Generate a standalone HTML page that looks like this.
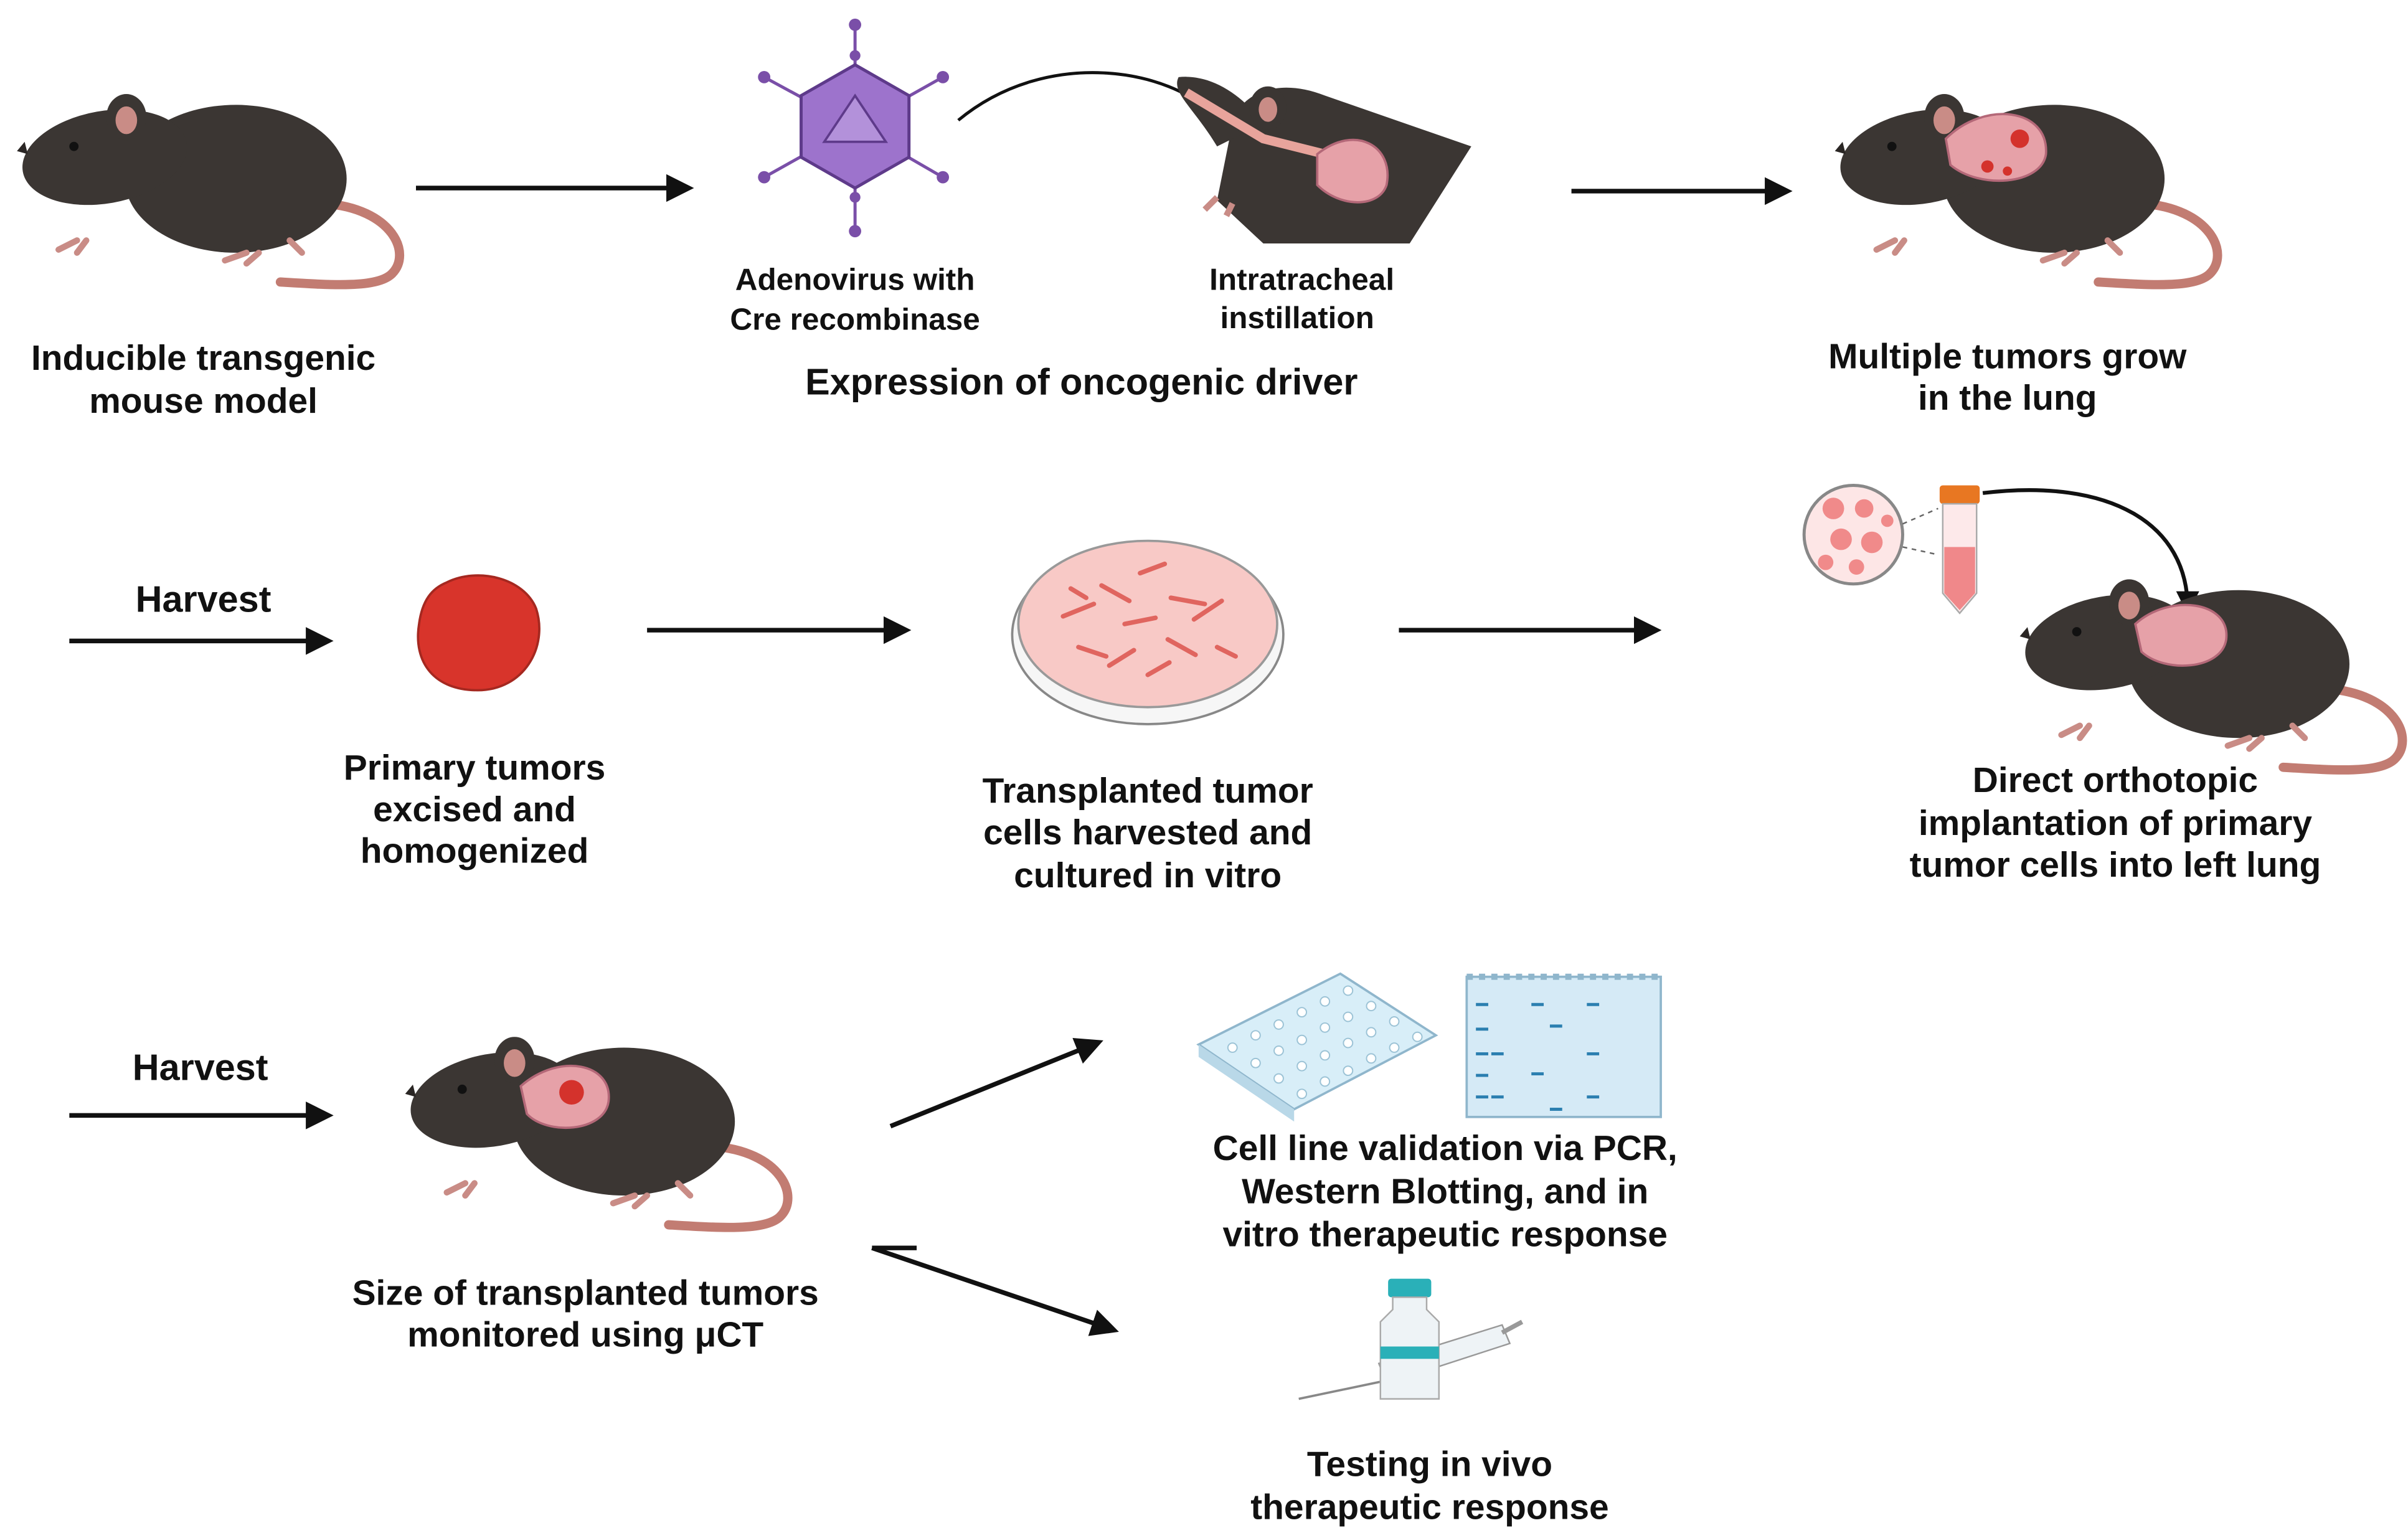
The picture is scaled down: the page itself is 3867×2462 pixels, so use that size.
<!DOCTYPE html>
<html><head><meta charset="utf-8"><style>
html,body{margin:0;padding:0;background:#fff;}
svg{display:block;}
text{font-family:"Liberation Sans",Arial,sans-serif;font-weight:bold;fill:#111;text-anchor:middle;}
</style></head><body>
<svg width="3867" height="2462" viewBox="0 0 1563 995" xmlns="http://www.w3.org/2000/svg">
<defs>
<marker id="ah" markerWidth="6" markerHeight="6" refX="4.5" refY="3" orient="auto" markerUnits="strokeWidth">
<path d="M0,0 L6,3 L0,6 z" fill="#111"/></marker>
<g id="mouse">
<path d="M200 72 C245 75 258 105 244 118 C234 127 205 125 172 123" fill="none" stroke="#c27c72" stroke-width="6" stroke-linecap="round"/>
<ellipse cx="143" cy="56" rx="72" ry="48" fill="#3b3633"/>
<ellipse cx="58" cy="42" rx="54" ry="30" transform="rotate(-10 58 42)" fill="#3b3633"/>
<path d="M8 40 L1 38 L6 32 Z" fill="#2a2624"/>
<ellipse cx="72" cy="16" rx="13" ry="15" fill="#3b3633"/>
<ellipse cx="72" cy="18" rx="7" ry="9" fill="#c98c86"/>
<circle cx="38" cy="35" r="3" fill="#111"/>
<path d="M40 96 l-12 6 M46 96 l-6 8 M150 104 l-14 5 M158 104 l-8 7 M178 96 l8 8" stroke="#c98c86" stroke-width="4" stroke-linecap="round"/>
</g>
</defs>

<!-- Row 1 -->
<use href="#mouse" x="10" y="60"/>
<text x="132" y="240" font-size="23">Inducible transgenic</text>
<text x="132" y="268" font-size="23">mouse model</text>
<line x1="270" y1="122" x2="446" y2="122" stroke="#111" stroke-width="3" marker-end="url(#ah)"/>

<!-- virus -->
<g stroke="#7a4fa8" stroke-width="2">
<line x1="555" y1="82" x2="555" y2="16"/><line x1="555" y1="82" x2="555" y2="150"/>
<line x1="555" y1="82" x2="496" y2="50"/><line x1="555" y1="82" x2="612" y2="50"/>
<line x1="555" y1="82" x2="496" y2="115"/><line x1="555" y1="82" x2="612" y2="115"/>
</g>
<g fill="#7a4fa8"><circle cx="555" cy="16" r="4"/><circle cx="555" cy="150" r="4"/><circle cx="496" cy="50" r="4"/><circle cx="612" cy="50" r="4"/><circle cx="496" cy="115" r="4"/><circle cx="612" cy="115" r="4"/><circle cx="555" cy="128" r="3.5"/><circle cx="555" cy="36" r="3.5"/></g>
<polygon points="555,42 590,62 590,102 555,122 520,102 520,62" fill="#9d73cc" stroke="#5e3a8a" stroke-width="2"/>
<polygon points="555,62 575,92 535,92" fill="#b391da" stroke="#5e3a8a" stroke-width="1.5"/>
<path d="M622 78 C680 30 760 45 788 75" fill="none" stroke="#111" stroke-width="2" marker-end="url(#ah)"/>

<!-- intratracheal mouse -->
<path d="M790 130 L800 80 C805 60 830 50 860 62 L955 95 L915 158 L820 158 Z" fill="#3b3633"/>
<path d="M790 95 C775 70 760 60 765 50 C785 48 805 60 820 80 Z" fill="#3b3633"/>
<ellipse cx="823" cy="70" rx="12" ry="14" fill="#3b3633"/><ellipse cx="823" cy="71" rx="6" ry="8" fill="#c98c86"/>
<path d="M770 60 L820 90 L860 100" fill="none" stroke="#e8a49c" stroke-width="6"/>
<path d="M855 100 C880 80 905 95 900 120 C895 135 870 135 855 120 Z" fill="#e6a1a8" stroke="#b46878" stroke-width="1.5"/>
<path d="M790 128 l-8 8 M800 132 l-4 8" stroke="#c98c86" stroke-width="4"/>
<text x="555" y="188" font-size="20">Adenovirus with</text>
<text x="555" y="214" font-size="20">Cre recombinase</text>
<text x="845" y="188" font-size="20">Intratracheal</text>
<text x="842" y="213" font-size="20">instillation</text>
<text x="702" y="256" font-size="24">Expression of oncogenic driver</text>
<line x1="1020" y1="124" x2="1159" y2="124" stroke="#111" stroke-width="3" marker-end="url(#ah)"/>

<use href="#mouse" x="1190" y="60"/>
<path d="M1263 90 C1288 65 1330 70 1328 100 C1325 120 1285 123 1266 107 Z" fill="#e6a1a8" stroke="#b46878" stroke-width="1.5"/>
<circle cx="1311" cy="90" r="6" fill="#d4322c"/><circle cx="1290" cy="108" r="4" fill="#d4322c"/><circle cx="1303" cy="111" r="3" fill="#d4322c"/>
<text x="1303" y="239" font-size="23">Multiple tumors grow</text>
<text x="1303" y="266" font-size="23">in the lung</text>

<!-- Row 2 -->
<text x="132" y="397" font-size="24">Harvest</text>
<line x1="45" y1="416" x2="212" y2="416" stroke="#111" stroke-width="3" marker-end="url(#ah)"/>
<path d="M290 378 C310 368 340 375 348 395 C356 420 340 448 310 448 C282 448 268 430 272 405 C274 390 280 382 290 378 Z" fill="#d8342b" stroke="#a52820" stroke-width="1.5"/>
<text x="308" y="506" font-size="23">Primary tumors</text>
<text x="308" y="533" font-size="23">excised and</text>
<text x="308" y="560" font-size="23">homogenized</text>
<line x1="420" y1="409" x2="587" y2="409" stroke="#111" stroke-width="3" marker-end="url(#ah)"/>
<ellipse cx="745" cy="412" rx="88" ry="58" fill="#f6f6f6" stroke="#888" stroke-width="1.5"/>
<ellipse cx="745" cy="405" rx="84" ry="54" fill="#f8c9c6" stroke="#999" stroke-width="1.5"/>
<g stroke="#e0655f" stroke-width="3" stroke-linecap="round">
<path d="M690 400 l20 -8 M715 380 l18 10 M740 372 l16 -6 M760 388 l22 4 M700 420 l18 6 M730 405 l20 -4 M758 415 l18 10 M720 432 l16 -10 M775 402 l18 -12 M745 438 l14 -8 M705 388 l-10 -6 M790 420 l12 6"/></g>
<text x="745" y="521" font-size="23">Transplanted tumor</text>
<text x="745" y="548" font-size="23">cells harvested and</text>
<text x="745" y="576" font-size="23">cultured in vitro</text>
<line x1="908" y1="409" x2="1074" y2="409" stroke="#111" stroke-width="3" marker-end="url(#ah)"/>

<circle cx="1203" cy="347" r="32" fill="#fde6e6" stroke="#888" stroke-width="2"/>
<g fill="#f08a8a"><circle cx="1190" cy="330" r="7"/><circle cx="1210" cy="330" r="6"/><circle cx="1195" cy="350" r="7"/><circle cx="1215" cy="352" r="7"/><circle cx="1185" cy="365" r="5"/><circle cx="1205" cy="368" r="5"/><circle cx="1225" cy="338" r="4"/></g>
<path d="M1235 340 L1258 330 M1235 355 L1258 360" stroke="#666" stroke-dasharray="3 3"/>
<rect x="1259" y="315" width="26" height="12" rx="2" fill="#e87722"/>
<path d="M1261 327 L1283 327 L1283 385 L1272 398 L1261 385 Z" fill="#fde9ea" stroke="#aaa"/>
<path d="M1262 355 L1282 355 L1282 385 L1272 396 L1262 385 Z" fill="#f0888a"/>
<path d="M1287 320 C1370 310 1420 340 1420 395" fill="none" stroke="#111" stroke-width="2.5" marker-end="url(#ah)"/>
<use href="#mouse" x="1310" y="375"/>
<path d="M1386 405 C1408 385 1448 390 1445 415 C1442 435 1405 437 1390 423 Z" fill="#e6a1a8" stroke="#b46878" stroke-width="1.5"/>
<text x="1373" y="514" font-size="23">Direct orthotopic</text>
<text x="1373" y="542" font-size="23">implantation of primary</text>
<text x="1373" y="569" font-size="23">tumor cells into left lung</text>

<!-- Row 3 -->
<text x="130" y="701" font-size="24">Harvest</text>
<line x1="45" y1="724" x2="212" y2="724" stroke="#111" stroke-width="3" marker-end="url(#ah)"/>
<use href="#mouse" x="262" y="672"/>
<path d="M338 705 C363 683 398 690 395 715 C392 735 355 737 342 723 Z" fill="#e6a1a8" stroke="#b46878" stroke-width="1.5"/>
<circle cx="371" cy="709" r="8" fill="#d4322c"/>
<text x="380" y="847" font-size="23">Size of transplanted tumors</text>
<text x="380" y="874" font-size="23">monitored using μCT</text>
<line x1="578" y1="731" x2="712" y2="677" stroke="#111" stroke-width="3" marker-end="url(#ah)"/>
<line x1="566" y1="810" x2="595" y2="810" stroke="#111" stroke-width="3"/>
<line x1="566" y1="810" x2="722" y2="863" stroke="#111" stroke-width="3" marker-end="url(#ah)"/>

<!-- well plate -->
<polygon points="778,678 870,632 932,672 840,720" fill="#d8eef8" stroke="#8fb6cc" stroke-width="1.5"/>
<polygon points="778,678 840,720 840,728 778,686" fill="#b9d8e8"/>
<g fill="#fff" stroke="#9cc3d6" stroke-width="0.8">
<circle cx="800" cy="680" r="3"/><circle cx="815" cy="672" r="3"/><circle cx="830" cy="665" r="3"/><circle cx="845" cy="657" r="3"/><circle cx="860" cy="650" r="3"/><circle cx="875" cy="643" r="3"/>
<circle cx="815" cy="690" r="3"/><circle cx="830" cy="682" r="3"/><circle cx="845" cy="675" r="3"/><circle cx="860" cy="667" r="3"/><circle cx="875" cy="660" r="3"/><circle cx="890" cy="653" r="3"/>
<circle cx="830" cy="700" r="3"/><circle cx="845" cy="692" r="3"/><circle cx="860" cy="685" r="3"/><circle cx="875" cy="677" r="3"/><circle cx="890" cy="670" r="3"/><circle cx="905" cy="663" r="3"/>
<circle cx="845" cy="710" r="3"/><circle cx="860" cy="702" r="3"/><circle cx="875" cy="695" r="3"/><circle cx="890" cy="687" r="3"/><circle cx="905" cy="680" r="3"/><circle cx="920" cy="673" r="3"/></g>
<!-- gel -->
<rect x="952" y="634" width="126" height="91" fill="#d5eaf6" stroke="#8fb6cc" stroke-width="1.5"/>
<path d="M952 634 h126" stroke="#8fb6cc" stroke-width="4" stroke-dasharray="4 4"/>
<g stroke="#2b7fb0" stroke-width="2">
<path d="M958 652h8 M994 652h8 M1030 652h8 M958 668h8 M1006 666h8 M958 684h8 M968 684h8 M1030 684h8 M958 698h8 M994 697h8 M958 712h8 M968 712h8 M1030 712h8 M1006 720h8"/></g>
<text x="938" y="753" font-size="23">Cell line validation via PCR,</text>
<text x="938" y="781" font-size="23">Western Blotting, and in</text>
<text x="938" y="809" font-size="23">vitro therapeutic response</text>

<!-- vial and syringe -->
<line x1="843" y1="908" x2="905" y2="895" stroke="#888" stroke-width="1.5"/>
<path d="M895 885 L975 860 L980 872 L900 898 Z" fill="#eef3f6" stroke="#999"/>
<line x1="975" y1="865" x2="988" y2="858" stroke="#999" stroke-width="3"/>
<rect x="901" y="830" width="28" height="12" rx="2" fill="#2ab0b8"/>
<path d="M904 842 h22 v8 l8 8 v50 h-38 v-50 l8 -8 Z" fill="#eef3f6" stroke="#aaa"/>
<rect x="896" y="874" width="38" height="8" fill="#2ab0b8"/>
<text x="928" y="958" font-size="23">Testing in vivo</text>
<text x="928" y="986" font-size="23">therapeutic response</text>
</svg>
</body></html>
